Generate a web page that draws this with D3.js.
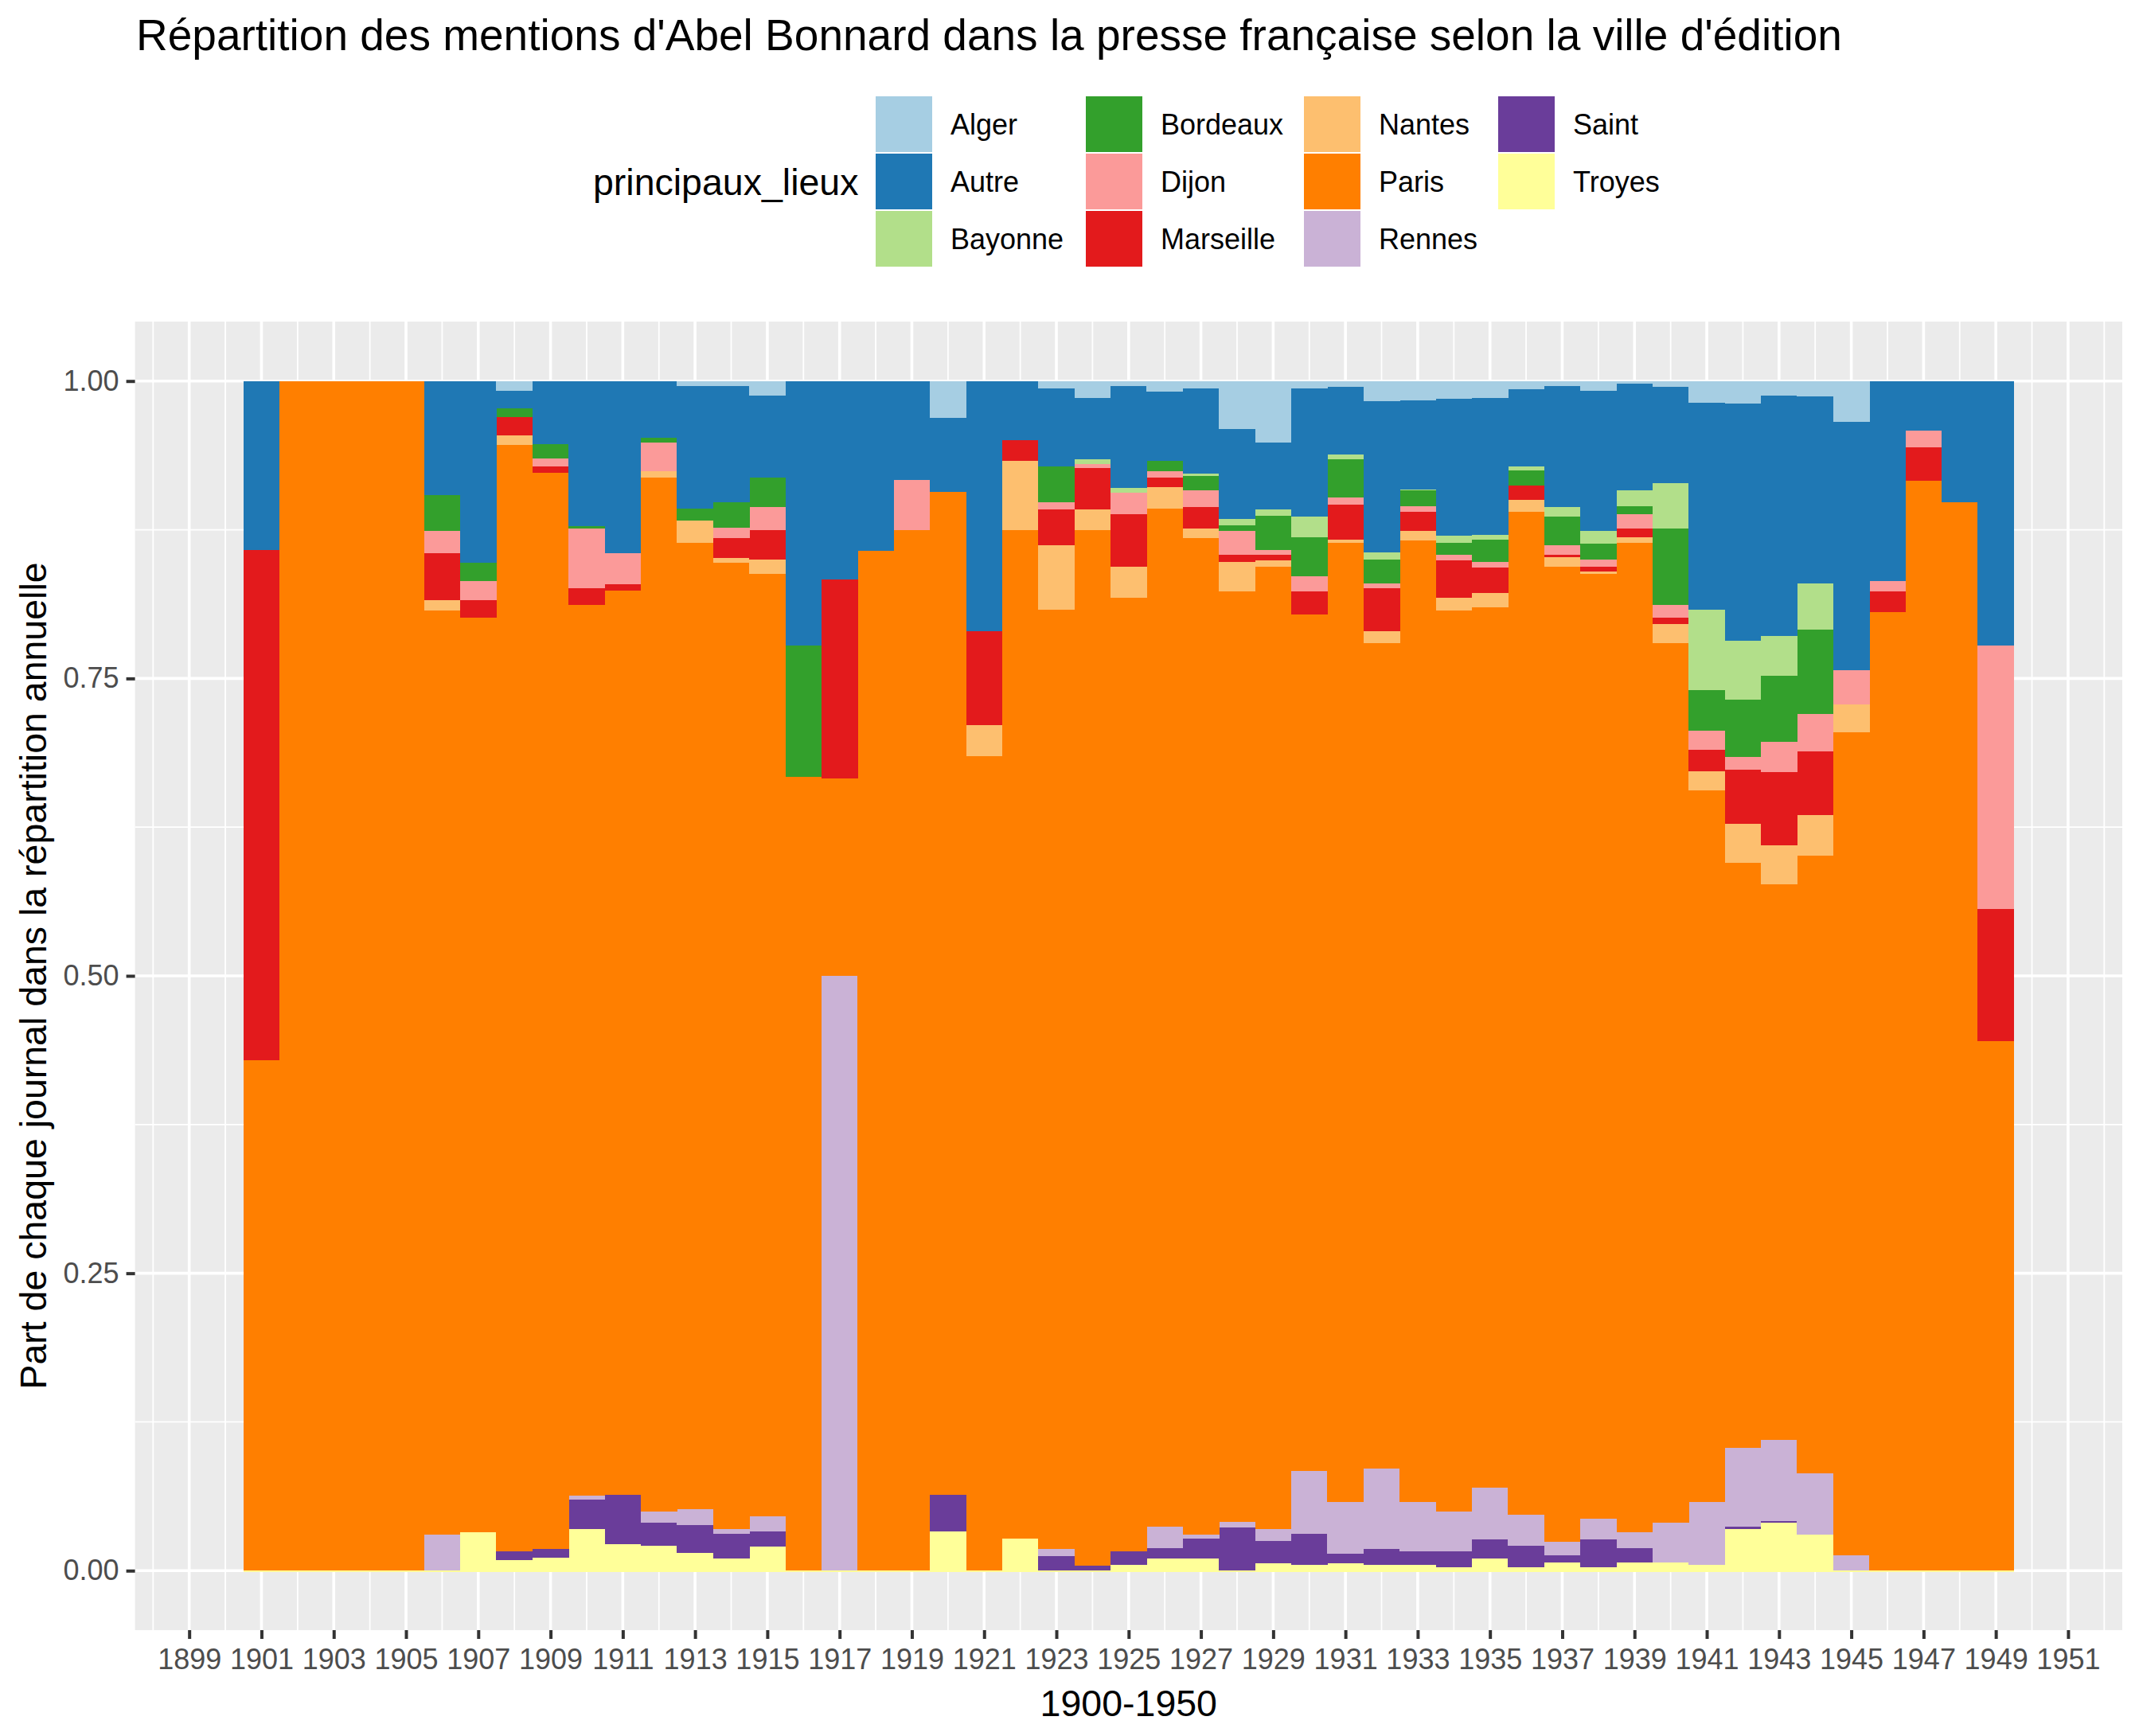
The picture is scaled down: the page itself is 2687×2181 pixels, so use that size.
<!DOCTYPE html>
<html>
<head>
<meta charset="utf-8">
<script src="https://cdn.jsdelivr.net/npm/d3@7"></script>
<style>
body{margin:0;background:#fff;}
text{font-family:"Liberation Sans", Arial, sans-serif;}
</style>
</head>
<body>
<svg id="chart" width="2687" height="2181"></svg>
<script>
var annees = [1901,1902,1903,1904,1905,1906,1907,1908,1909,1910,
    1911,1912,1913,1914,1915,1916,1917,1918,1919,1920,
    1921,1922,1923,1924,1925,1926,1927,1928,1929,1930,
    1931,1932,1933,1934,1935,1936,1937,1938,1939,1940,
    1941,1942,1943,1944,1945,1946,1947,1948,1949];

var lieux = ["Alger","Autre","Bayonne","Bordeaux","Dijon","Marseille","Nantes","Paris","Rennes","Saint","Troyes"];
var couleurs = ["#a6cee3","#1f78b4","#b2df8a","#33a02c","#fb9a99","#e31a1c","#fdbf6f","#ff7f00","#cab2d6","#6a3d9a","#ffff99"];

// part de chaque ville, une valeur par annee (1901 -> 1949)
var alger = [0,0,0,0,0,0,0,0.008,0,0,
    0,0,0.004,0.004,0.012,0,0,0,0,0.031,
    0,0,0.006,0.014,0.004,0.009,0.006,0.040,0.052,0.006,
    0.005,0.017,0.016,0.015,0.014,0.007,0.004,0.008,0.002,0.005,
    0.018,0.019,0.012,0.013,0.034,0,0,0,0];
var autre = [0.142,0,0,0,0,0.096,0.153,0.015,0.053,0.122,
    0.145,0.048,0.103,0.098,0.069,0.222,0.167,0.143,0.083,0.062,
    0.210,0.050,0.066,0.052,0.086,0.058,0.072,0.076,0.056,0.108,
    0.057,0.127,0.075,0.115,0.115,0.065,0.102,0.118,0.090,0.081,
    0.174,0.199,0.202,0.157,0.209,0.168,0.042,0.102,0.222];
var bayonne = [0,0,0,0,0,0,0,0,0,0,
    0,0,0,0,0,0,0,0,0,0,
    0,0,0,0.004,0.004,0,0.002,0.005,0.005,0.017,
    0.004,0.006,0.001,0.006,0.004,0.003,0.008,0.011,0.013,0.038,
    0.068,0.050,0.034,0.039,0,0,0,0,0];
var bordeaux = [0,0,0,0,0,0.030,0.015,0.007,0.012,0.002,
    0,0.004,0.010,0.021,0.025,0.111,0,0,0,0,
    0,0,0.030,0,0,0.009,0.012,0.005,0.029,0.033,
    0.032,0.020,0.013,0.010,0.019,0.013,0.024,0.013,0.007,0.064,
    0.034,0.048,0.055,0.071,0,0,0,0,0];
var dijon = [0,0,0,0,0,0.019,0.016,0,0.007,0.050,
    0.026,0.024,0,0.009,0.019,0,0,0,0.042,0,
    0,0,0.006,0.003,0.018,0.005,0.014,0.020,0.004,0.013,
    0.006,0.004,0.005,0.005,0.005,0,0.008,0.006,0.012,0.011,
    0.016,0.011,0.026,0.031,0.029,0.009,0.014,0,0.222];
var marseille = [0.429,0,0,0,0,0.039,0.015,0.016,0.005,0.014,
    0.005,0,0,0.017,0.025,0,0.167,0,0,0,
    0.079,0.017,0.030,0.035,0.044,0.008,0.018,0.006,0.005,0.019,
    0.029,0.036,0.016,0.031,0.021,0.012,0.002,0.004,0.007,0.005,
    0.018,0.045,0.061,0.054,0,0.017,0.028,0,0.111];
var nantes = [0,0,0,0,0,0.009,0,0.008,0,0,
    0,0.005,0.019,0.004,0.012,0,0,0,0,0,
    0.026,0.058,0.054,0.017,0.026,0.018,0.008,0.025,0.005,0,
    0.003,0.010,0.008,0.011,0.012,0.010,0.008,0.002,0.005,0.016,
    0.016,0.033,0.033,0.034,0.023,0,0,0,0];
var paris = [0.429,1,1,1,1,0.777,0.769,0.930,0.905,0.749,
    0.760,0.869,0.812,0.812,0.792,0.667,0.166,0.857,0.875,0.843,
    0.685,0.848,0.790,0.871,0.802,0.856,0.838,0.782,0.809,0.720,
    0.806,0.694,0.808,0.757,0.740,0.843,0.820,0.794,0.832,0.740,
    0.598,0.492,0.467,0.519,0.692,0.806,0.916,0.898,0.445];
var rennes = [0,0,0,0,0,0.030,0,0,0,0.003,
    0,0.010,0.014,0.004,0.013,0,0.5,0,0,0,
    0,0,0.006,0,0,0.018,0.003,0.005,0.010,0.053,
    0.044,0.068,0.042,0.034,0.044,0.026,0.011,0.018,0.013,0.033,
    0.053,0.066,0.068,0.052,0.013,0,0,0,0];
var saint = [0,0,0,0,0,0,0,0.007,0.007,0.025,
    0.042,0.019,0.023,0.021,0.013,0,0,0,0,0.031,
    0,0,0.012,0.004,0.011,0.009,0.017,0.036,0.019,0.026,
    0.008,0.013,0.011,0.013,0.016,0.018,0.006,0.023,0.012,0,
    0,0.002,0.002,0,0,0,0,0,0];
var troyes = [0,0,0,0,0,0,0.032,0.009,0.011,0.035,
    0.022,0.021,0.015,0.010,0.020,0,0,0,0,0.033,
    0,0.027,0,0,0.005,0.010,0.010,0,0.006,0.005,
    0.006,0.005,0.005,0.003,0.010,0.003,0.007,0.003,0.007,0.007,
    0.005,0.035,0.040,0.030,0,0,0,0,0];

var yTicks = [0, 0.25, 0.5, 0.75, 1];
var yMinor = [0.125, 0.375, 0.625, 0.875];
var xTicks = [1899,1901,1903,1905,1907,1909,1911,1913,1915,1917,1919,1921,1923,1925,
    1927,1929,1931,1933,1935,1937,1939,1941,1943,1945,1947,1949,1951];
var xMinor = [1898,1900,1902,1904,1906,1908,1910,1912,1914,1916,1918,1920,1922,1924,1926,
    1928,1930,1932,1934,1936,1938,1940,1942,1944,1946,1948,1950,1952];

var series = [alger, autre, bayonne, bordeaux, dijon, marseille, nantes, paris, rennes, saint, troyes];

var rows = annees.map((a, i) => {
    let r = {annee: a};
    lieux.forEach((l, j) => r[l] = series[j][i]);
    return r;
});

var svg = d3.select("#chart");
svg.append("rect").attr("width", 2687).attr("height", 2181).attr("fill", "#fff");

var pLeft = 169.6, pRight = 2666, pTop = 404, pBottom = 2048;
var x = d3.scaleLinear().domain([1897.5, 1952.5]).range([pLeft, pRight]);
var y = d3.scaleLinear().domain([-0.05, 1.05]).range([pBottom, pTop]);
var color = d3.scaleOrdinal().domain(lieux).range(couleurs);

svg.append("rect").attr("x", pLeft).attr("y", pTop)
    .attr("width", pRight - pLeft).attr("height", pBottom - pTop).attr("fill", "#ebebeb");

var grid = svg.append("g");
grid.selectAll(".ym").data(yMinor).join("line")
    .attr("x1", pLeft).attr("x2", pRight).attr("y1", d => y(d)).attr("y2", d => y(d))
    .attr("stroke", "#fff").attr("stroke-width", 1.8);
grid.selectAll(".xm").data(xMinor).join("line")
    .attr("y1", pTop).attr("y2", pBottom).attr("x1", d => x(d)).attr("x2", d => x(d))
    .attr("stroke", "#fff").attr("stroke-width", 1.8);
grid.selectAll(".yM").data(yTicks).join("line")
    .attr("x1", pLeft).attr("x2", pRight).attr("y1", d => y(d)).attr("y2", d => y(d))
    .attr("stroke", "#fff").attr("stroke-width", 3.6);
grid.selectAll(".xM").data(xTicks).join("line")
    .attr("y1", pTop).attr("y2", pBottom).attr("x1", d => x(d)).attr("x2", d => x(d))
    .attr("stroke", "#fff").attr("stroke-width", 3.6);

var stack = d3.stack().keys(lieux.slice().reverse()).offset(d3.stackOffsetExpand);
var layers = stack(rows);
var y0 = y(0);

svg.append("g").selectAll("g").data(layers).join("g")
    .attr("fill", d => color(d.key))
    .each(function(layer) {
        let troy = layer.key == "Troyes";
        d3.select(this).selectAll("rect").data(layer).join("rect")
            .attr("x", d => x(d.data.annee - 0.5))
            .attr("width", d => x(d.data.annee + 0.5) - x(d.data.annee - 0.5) + 0.3)
            .attr("y", d => troy ? Math.min(y(d[1]), y0 - 2) : y(d[1]))
            .attr("height", d => troy ? (y0 + 2) - Math.min(y(d[1]), y0 - 2) : Math.max(0, y(d[0]) - y(d[1])))
            .attr("shape-rendering", "crispEdges");
    });

var xAxis = svg.append("g").attr("transform", "translate(0," + pBottom + ")")
    .call(d3.axisBottom(x).tickValues(xTicks).tickFormat(d3.format("d")).tickSize(11).tickPadding(12));
var yAxis = svg.append("g").attr("transform", "translate(" + pLeft + ",0)")
    .call(d3.axisLeft(y).tickValues(yTicks).tickFormat(d3.format(".2f")).tickSize(11).tickPadding(9));
[xAxis, yAxis].forEach(a => {
    a.select(".domain").remove();
    a.selectAll("line").attr("stroke", "#333").attr("stroke-width", 4);
    a.selectAll("text").attr("fill", "#4d4d4d").style("font-size", "36px")
        .style("font-family", "'Liberation Sans', Arial, sans-serif");
});

svg.append("text").attr("x", (pLeft + pRight) / 2).attr("y", 2156)
    .attr("text-anchor", "middle").style("font-size", "46.5px").text("1900-1950");
svg.append("text").attr("transform", "translate(58," + (pTop + pBottom) / 2 + ") rotate(-90)")
    .attr("text-anchor", "middle").style("font-size", "46.5px")
    .text("Part de chaque journal dans la répartition annuelle");

svg.append("text").attr("x", 171).attr("y", 63).style("font-size", "55px")
    .text("Répartition des mentions d'Abel Bonnard dans la presse française selon la ville d'édition");

// legende : 3 lignes, remplie par colonne
var legCols = [1100, 1364, 1638, 1882];
var legRows = [121, 193, 265];
var leg = svg.append("g");
leg.append("text").attr("x", 745).attr("y", 245).style("font-size", "46.5px").text("principaux_lieux");
lieux.forEach((l, i) => {
    let cx = legCols[Math.floor(i / 3)], cy = legRows[i % 3];
    leg.append("rect").attr("x", cx).attr("y", cy).attr("width", 71).attr("height", 70)
        .attr("fill", color(l));
    leg.append("text").attr("x", cx + 94).attr("y", cy + 48).style("font-size", "36px").text(l);
});
</script>
</body>
</html>
